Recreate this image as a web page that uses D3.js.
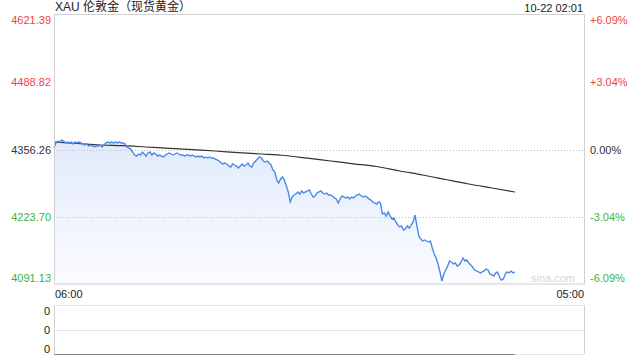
<!DOCTYPE html>
<html>
<head>
<meta charset="utf-8">
<script src="https://cdn.jsdelivr.net/npm/d3@7/dist/d3.min.js"></script>
<style>
  body { margin: 0; background: #fff; }
  text { font-family: "Liberation Sans", Arial, "Noto Sans CJK SC", sans-serif; }
</style>
</head>
<body>
<svg id="chart" width="640" height="360"></svg>
<script>
(function (d3) {
    'use strict';

    // ---- data ----
    var title = 'XAU 伦敦金（现货黄金）',
        stamp = '10-22 02:01',
        priceTicks = [4621.39, 4488.82, 4356.26, 4223.70, 4091.13],
        pctTicks = ['+6.09%', '+3.04%', '0.00%', '-3.04%', '-6.09%'],
        gridTicks = [4356.26, 4223.70],
        timeLabels = ['06:00', '05:00'],
        sessionMinutes = 1380,          // 06:00 -> 05:00
        stepMinutes = 5,
        // price every 5 minutes from 06:00
        prices = [
            4359.2, 4369.1, 4373.0, 4371.0, 4375.0, 4373.0, 4369.1, 4371.0, 4369.1, 4371.0, 4367.1, 4371.0,
            4369.1, 4371.0, 4369.1, 4367.1, 4365.1, 4367.1, 4363.2, 4365.1, 4363.2, 4361.2, 4363.2, 4363.2,
            4365.1, 4361.2, 4365.1, 4369.1, 4371.0, 4369.1, 4371.0, 4369.1, 4371.0, 4369.1, 4371.0, 4369.1,
            4369.1, 4367.1, 4361.2, 4359.2, 4357.2, 4351.3, 4345.4, 4343.4, 4347.4, 4345.4, 4351.3, 4347.4,
            4343.4, 4349.4, 4351.3, 4345.4, 4349.4, 4347.4, 4343.4, 4345.4, 4343.4, 4341.5, 4345.4, 4347.4,
            4349.4, 4347.4, 4345.4, 4347.4, 4349.4, 4347.4, 4345.4, 4345.4, 4343.4, 4345.4, 4345.4, 4343.4,
            4345.4, 4343.4, 4341.5, 4343.4, 4341.5, 4343.4, 4339.5, 4341.5, 4339.5, 4341.5, 4339.5, 4339.5,
            4337.5, 4335.6, 4333.6, 4329.6, 4327.7, 4329.6, 4327.7, 4323.7, 4321.8, 4327.7, 4325.7, 4323.7,
            4319.8, 4323.7, 4327.7, 4323.7, 4325.7, 4329.6, 4323.7, 4321.8, 4329.6, 4333.6, 4337.5, 4341.5,
            4339.5, 4333.6, 4331.6, 4333.6, 4329.6, 4325.7, 4315.9, 4311.9, 4296.1, 4290.2, 4298.1, 4302.1,
            4296.1, 4284.3, 4272.5, 4252.8, 4262.6, 4266.6, 4268.5, 4272.5, 4268.5, 4274.5, 4270.5, 4272.5,
            4274.5, 4276.4, 4268.5, 4262.6, 4264.6, 4270.5, 4272.5, 4274.5, 4270.5, 4268.5, 4270.5, 4266.6,
            4266.6, 4264.6, 4260.7, 4258.7, 4250.8, 4258.7, 4264.6, 4262.6, 4260.7, 4262.6, 4258.7, 4262.6,
            4260.7, 4264.6, 4266.6, 4268.5, 4264.6, 4262.6, 4264.6, 4262.6, 4258.7, 4256.7, 4252.8, 4250.8,
            4248.8, 4252.8, 4250.8, 4229.1, 4231.1, 4225.2, 4233.1, 4225.2, 4219.3, 4221.2, 4213.4, 4207.4,
            4203.5, 4205.5, 4197.6, 4199.6, 4205.5, 4201.5, 4207.4, 4213.4, 4227.1, 4205.5, 4185.8, 4179.8,
            4175.9, 4177.9, 4175.9, 4173.9, 4175.9, 4162.1, 4150.3, 4142.4, 4130.6, 4114.8, 4097.0, 4110.8,
            4118.7, 4126.6, 4136.5, 4134.5, 4130.6, 4132.5, 4126.6, 4128.6, 4134.5, 4142.4, 4136.5, 4138.4,
            4132.5, 4128.6, 4124.6, 4118.7, 4116.8, 4114.8, 4112.8, 4114.8, 4116.8, 4120.7, 4118.7, 4110.8,
            4108.9, 4106.9, 4112.8, 4114.8, 4104.9, 4099.0, 4101.0, 4110.8, 4114.8, 4112.8, 4116.8, 4112.8,
            4114.8
        ],
        // average price, hourly from 06:00
        avgPrices = [
            4371.0, 4368.1, 4365.1, 4363.9, 4361.2, 4358.6, 4355.9, 4353.3, 4350.1, 4347.4, 4344.4,
            4339.1, 4333.6, 4328.1, 4322.7, 4313.9, 4306.0, 4297.1, 4288.3, 4280.4, 4272.5
        ],
        volumeTicks = ['0', '0', '0'];

    var RED = '#f23f3f',
        GREEN = '#3cb33c',
        GREY = '#333',
        BORDER = '#d0d0d0',
        svg = d3.select('#chart'),
        left = 54,
        right = 584,
        top = 15,
        bottom = 284,
        volTop = 305,
        volBottom = 354;

    function tickColor(i) {
        if (i < 2) { return RED; }
        if (i === 2) { return GREY; }
        return GREEN;
    }

    var x = d3.scaleLinear().domain([0, sessionMinutes]).range([left, right]),
        y = d3.scaleLinear().domain([priceTicks[4], priceTicks[0]]).range([bottom, top]),
        vy = d3.scaleLinear().domain([0, 2]).range([volBottom, volTop]);

    var defs = svg.append('defs'),
        grad = defs.append('linearGradient')
            .attr('id', 'fill')
            .attr('x1', 0).attr('y1', 0).attr('x2', 0).attr('y2', 1);
    grad.append('stop').attr('offset', '0%').attr('stop-color', '#e1eafb');
    grad.append('stop').attr('offset', '100%').attr('stop-color', '#fbfcff');

    // header
    svg.append('text')
        .attr('x', 55).attr('y', 11)
        .attr('font-size', 12).attr('fill', '#222')
        .text(title);
    svg.append('text')
        .attr('x', 583).attr('y', 12)
        .attr('text-anchor', 'end')
        .attr('font-size', 11).attr('fill', '#222')
        .text(stamp);

    // area + lines
    var pts = prices.map(function (p, i) { return { t: i * stepMinutes, p: p }; }),
        avg = avgPrices.map(function (p, i) { return { t: i * 60, p: p }; });
    avg[avg.length - 1].t = pts[pts.length - 1].t;

    svg.append('path')
        .datum(pts)
        .attr('fill', 'url(#fill)')
        .attr('d', d3.area()
            .x(function (d) { return x(d.t); })
            .y0(bottom)
            .y1(function (d) { return y(d.p); }));

    // grid
    svg.selectAll('.grid')
        .data(gridTicks)
        .enter().append('line')
        .attr('class', 'grid')
        .attr('x1', left).attr('x2', right)
        .attr('y1', function (d) { return Math.round(y(d)) + 0.5; })
        .attr('y2', function (d) { return Math.round(y(d)) + 0.5; })
        .attr('stroke', '#c0c0c0')
        .attr('stroke-dasharray', '1,2');

    svg.append('path')
        .datum(avg)
        .attr('fill', 'none')
        .attr('stroke', '#333')
        .attr('stroke-width', 1.2)
        .attr('d', d3.line()
            .curve(d3.curveMonotoneX)
            .x(function (d) { return x(d.t); })
            .y(function (d) { return y(d.p); }));

    svg.append('path')
        .datum(pts)
        .attr('fill', 'none')
        .attr('stroke', '#4c87ea')
        .attr('stroke-width', 1.4)
        .attr('d', d3.line()
            .x(function (d) { return x(d.t); })
            .y(function (d) { return y(d.p); }));

    // frame
    svg.append('rect')
        .attr('x', left + 0.5).attr('y', top - 0.5)
        .attr('width', right - left).attr('height', bottom - top + 0.5)
        .attr('fill', 'none')
        .attr('stroke', BORDER);

    svg.append('text')
        .attr('x', 575).attr('y', 282)
        .attr('text-anchor', 'end')
        .attr('font-size', 11).attr('fill', '#d6d6d6')
        .text('sina.com');

    // price labels
    function labelY(d, i) {
        if (i === 0) { return y(d) + 9; }
        if (i === priceTicks.length - 1) { return y(d) - 2; }
        return y(d) + 4;
    }
    svg.selectAll('.pl')
        .data(priceTicks)
        .enter().append('text')
        .attr('class', 'pl')
        .attr('x', 51)
        .attr('y', labelY)
        .attr('text-anchor', 'end')
        .attr('font-size', 11)
        .attr('fill', function (d, i) { return tickColor(i); })
        .text(function (d) { return d.toFixed(2); });

    svg.selectAll('.pr')
        .data(priceTicks)
        .enter().append('text')
        .attr('class', 'pr')
        .attr('x', 590)
        .attr('y', labelY)
        .attr('font-size', 11)
        .attr('fill', function (d, i) { return tickColor(i); })
        .text(function (d, i) { return pctTicks[i]; });

    // time labels
    svg.append('text')
        .attr('x', left + 1).attr('y', 298)
        .attr('font-size', 11).attr('fill', '#222')
        .text(timeLabels[0]);
    svg.append('text')
        .attr('x', right).attr('y', 298)
        .attr('text-anchor', 'end')
        .attr('font-size', 11).attr('fill', '#222')
        .text(timeLabels[1]);

    // volume panel
    var vol = svg.append('g');
    vol.append('line')
        .attr('x1', left + 0.5).attr('x2', left + 0.5)
        .attr('y1', volTop).attr('y2', volBottom)
        .attr('stroke', BORDER);
    vol.append('line')
        .attr('x1', right + 0.5).attr('x2', right + 0.5)
        .attr('y1', volTop).attr('y2', volBottom)
        .attr('stroke', BORDER);
    [2, 1, 0].forEach(function (v) {
        vol.append('line')
            .attr('x1', left).attr('x2', right)
            .attr('y1', Math.round(vy(v)) + 0.5).attr('y2', Math.round(vy(v)) + 0.5)
            .attr('stroke', '#c8c8c8')
            .attr('stroke-dasharray', '1,1');
    });
    vol.append('line')
        .attr('x1', left).attr('x2', x(pts[pts.length - 1].t))
        .attr('y1', volBottom + 0.5).attr('y2', volBottom + 0.5)
        .attr('stroke', '#888');
    vol.selectAll('.vl')
        .data(volumeTicks)
        .enter().append('text')
        .attr('class', 'vl')
        .attr('x', 50)
        .attr('y', function (d, i) { return vy(2 - i) + [10, 4, -1][i]; })
        .attr('text-anchor', 'end')
        .attr('font-size', 11).attr('fill', '#222')
        .text(function (d) { return d; });
}(window.d3));
</script>
</body>
</html>
